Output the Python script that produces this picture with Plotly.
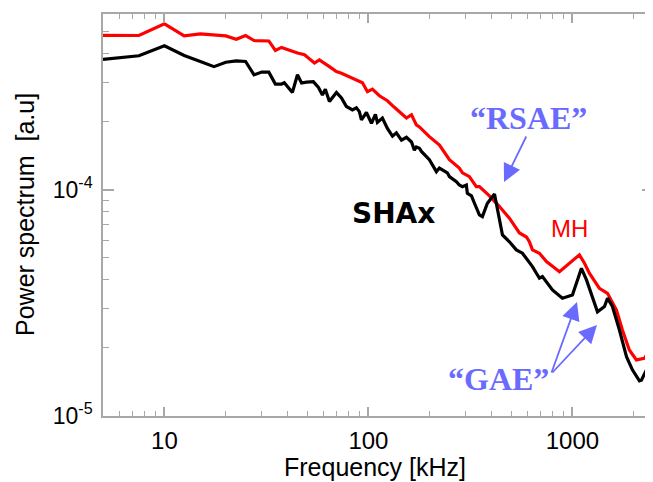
import plotly.graph_objects as go

# SHAx (black) spectrum, frequency in kHz, power in a.u.
shax_freq = [5, 7.5, 10, 12.5, 15, 17.5, 20, 22.5, 25, 27.5, 30, 32.5, 35, 37.5, 38.7, 42.4, 44.9, 47,
             49.7, 53.7, 56.9, 59.5, 61.5, 64.4, 69.7, 73.8, 76.3, 78, 83.5, 87.3, 90.3, 92.4, 97.8,
             103.5, 108.2, 110.7, 117.1, 123.9, 131.2, 137.1, 145.2, 153.6, 162.6, 168, 171.8, 177.8,
             181.9, 199, 215.4, 222.8, 243.8, 249.5, 270, 279, 289, 302, 305.5, 320, 331, 350, 362,
             383, 415, 434, 454, 491, 531, 569, 615, 637, 666, 689, 713, 798, 893, 1000, 1059, 1107,
             1172, 1240, 1327, 1436, 1486, 1571, 1700, 1841, 1968, 2130, 2178, 2306, 2480]
shax_power = [3.78e-4, 3.92e-4, 4.34e-4, 3.93e-4, 3.70e-4, 3.51e-4, 3.67e-4, 3.72e-4, 3.70e-4,
              3.23e-4, 3.32e-4, 3.32e-4, 2.94e-4, 2.94e-4, 2.98e-4, 2.70e-4, 3.23e-4, 2.97e-4,
              3.00e-4, 3.01e-4, 2.84e-4, 2.63e-4, 2.79e-4, 2.46e-4, 2.70e-4, 2.55e-4, 2.42e-4,
              2.34e-4, 2.26e-4, 2.31e-4, 2.22e-4, 2.04e-4, 2.20e-4, 1.97e-4, 2.16e-4, 1.99e-4,
              2.08e-4, 1.87e-4, 1.73e-4, 1.79e-4, 1.66e-4, 1.71e-4, 1.63e-4, 1.50e-4, 1.55e-4,
              1.53e-4, 1.48e-4, 1.36e-4, 1.205e-4, 1.25e-4, 1.19e-4, 1.145e-4, 1.088e-4, 1.052e-4,
              1.034e-4, 1.052e-4, 0.967e-4, 0.941e-4, 0.873e-4, 0.775e-4, 0.762e-4, 0.873e-4,
              0.960e-4, 0.789e-4, 0.632e-4, 0.590e-4, 0.543e-4, 0.525e-4, 0.482e-4, 0.458e-4,
              0.428e-4, 0.407e-4, 0.414e-4, 0.361e-4, 0.332e-4, 0.343e-4, 0.400e-4, 0.450e-4,
              0.400e-4, 0.343e-4, 0.289e-4, 0.305e-4, 0.332e-4, 0.305e-4, 0.240e-4, 0.183e-4,
              0.160e-4, 0.143e-4, 0.144e-4, 0.160e-4, 0.192e-4]

# MH (red) spectrum
mh_freq = [5, 7.5, 10, 12.5, 15, 17.5, 20, 22.5, 25, 27.5, 30, 32.5, 35, 37.5, 44.9, 48.6, 54.4,
           57.5, 64.4, 69.7, 73.8, 80.7, 85.4, 93.5, 98.9, 104.6, 113.2, 123.9, 134, 145.2, 153.6,
           162.6, 171.8, 177.8, 199, 223, 249.5, 279, 289, 312.6, 338, 350, 392, 439, 491, 550,
           595, 615, 637, 689, 746, 864, 967, 1082, 1146, 1211, 1356, 1486, 1644, 1758, 1901,
           2059, 2254, 2480]
mh_power = [4.83e-4, 4.82e-4, 5.43e-4, 4.80e-4, 4.90e-4, 4.85e-4, 4.80e-4, 4.64e-4, 4.82e-4,
            4.58e-4, 4.56e-4, 4.56e-4, 4.14e-4, 4.27e-4, 4.03e-4, 3.96e-4, 3.64e-4, 3.76e-4,
            3.51e-4, 3.34e-4, 3.28e-4, 3.16e-4, 3.09e-4, 2.98e-4, 2.72e-4, 2.79e-4, 2.61e-4,
            2.48e-4, 2.32e-4, 2.17e-4, 2.08e-4, 2.15e-4, 1.94e-4, 1.90e-4, 1.72e-4, 1.58e-4,
            1.36e-4, 1.25e-4, 1.19e-4, 1.145e-4, 1.034e-4, 1.034e-4, 0.941e-4, 0.844e-4,
            0.750e-4, 0.645e-4, 0.619e-4, 0.590e-4, 0.543e-4, 0.525e-4, 0.482e-4, 0.435e-4,
            0.474e-4, 0.516e-4, 0.474e-4, 0.428e-4, 0.367e-4, 0.349e-4, 0.294e-4, 0.240e-4,
            0.196e-4, 0.177e-4, 0.180e-4, 0.205e-4]

x_tick_vals = [10, 100, 1000]
x_tick_text = ["10", "100", "1000"]
y_tick_vals = [1e-5, 1e-4]
y_tick_text = ["10<sup>-5</sup>", "10<sup>-4</sup>"]

x_minor = [m * 10 ** d for d in range(0, 4) for m in range(2, 10) if 5 <= m * 10 ** d <= 2500]
y_minor = [m * 10.0 ** d for d in (-5, -4) for m in range(2, 10) if m * 10.0 ** d <= 6e-4]

blue = "#6a6aff"
axis_col = "#a8a8a8"

# page body has an 8px margin: figure is 645x474 placed at (8, 8) in the 653x482 window
PL, PR, PT, PB = 103, 653, 14, 416   # plot area in window pixels


def px(xp):
    return (xp - PL) / (PR - PL)


def py(yp):
    return (PB - yp) / (PB - PT)


fig = go.Figure()
fig.add_trace(go.Scatter(x=mh_freq, y=mh_power, mode="lines",
                         line=dict(color="#ff0000", width=3.2), showlegend=False))
fig.add_trace(go.Scatter(x=shax_freq, y=shax_power, mode="lines",
                         line=dict(color="#000000", width=3.2), showlegend=False))

fig.update_layout(
    width=645, height=474,
    margin=dict(l=PL - 8, r=0, t=PT - 8, b=474 - (PB - 8), autoexpand=False),
    plot_bgcolor="white", paper_bgcolor="white",
    font=dict(family="Liberation Sans, Arial, sans-serif", color="black"),
    xaxis=dict(type="log", range=[0.699, 3.395], tickvals=x_tick_vals, ticktext=x_tick_text,
               ticks="inside", ticklen=9, tickwidth=1.5, tickcolor=axis_col, automargin=False,
               showline=True, linecolor=axis_col, linewidth=1.5, mirror="allticks",
               showgrid=False, zeroline=False, tickfont=dict(size=24), ticklabelstandoff=2,
               minor=dict(tickvals=x_minor, ticks="inside", ticklen=5, tickwidth=1.2,
                          tickcolor=axis_col, showgrid=False)),
    yaxis=dict(type="log", range=[-5, -3.2218], tickvals=y_tick_vals, ticktext=y_tick_text,
               ticks="inside", ticklen=11, tickwidth=1.5, tickcolor=axis_col, automargin=False,
               showline=True, linecolor=axis_col, linewidth=1.5, mirror="allticks",
               showgrid=False, zeroline=False, tickfont=dict(size=23), ticklabelstandoff=4,
               minor=dict(tickvals=y_minor, ticks="inside", ticklen=6, tickwidth=1.2,
                          tickcolor=axis_col, showgrid=False)),
)

serif = "Liberation Serif, Times New Roman, serif"
annotations = [
    dict(text="Frequency [kHz]", x=px(375), y=py(467), xref="paper", yref="paper",
         showarrow=False, font=dict(size=25), xanchor="center", yanchor="middle"),
    dict(text="Power spectrum\u00a0\u00a0[a.u]", x=px(25), y=py(215), xref="paper", yref="paper",
         showarrow=False, font=dict(size=25), textangle=-90, xanchor="center", yanchor="middle"),
    dict(text="<b>SHAx</b>", x=px(393), y=py(213), xref="paper", yref="paper",
         showarrow=False, font=dict(size=28, color="black", family="DejaVu Sans, Verdana, sans-serif"),
         xanchor="center", yanchor="middle"),
    dict(text="MH", x=px(569), y=py(229), xref="paper", yref="paper",
         showarrow=False, font=dict(size=24, color="#ff0000"), xanchor="center", yanchor="middle"),
    dict(text="<b>\u201cRSAE\u201d</b>", x=px(528), y=py(118), xref="paper", yref="paper",
         showarrow=False, font=dict(size=32, color=blue, family=serif),
         xanchor="center", yanchor="middle"),
    dict(text="<b>\u201cGAE\u201d</b>", x=px(498), y=py(379), xref="paper", yref="paper",
         showarrow=False, font=dict(size=32, color=blue, family=serif),
         xanchor="center", yanchor="middle"),
    dict(text="", x=px(504), y=py(182), xref="paper", yref="paper",
         showarrow=True, ax=23, ay=-47, arrowcolor=blue, arrowwidth=1.8, arrowhead=2, arrowsize=2,
         standoff=0),
    dict(text="", x=px(577), y=py(302), xref="paper", yref="paper",
         showarrow=True, ax=-26, ay=72, arrowcolor=blue, arrowwidth=1.8, arrowhead=2, arrowsize=2,
         standoff=0),
    dict(text="", x=px(597), y=py(325), xref="paper", yref="paper",
         showarrow=True, ax=-46, ay=49, arrowcolor=blue, arrowwidth=1.8, arrowhead=2, arrowsize=2,
         standoff=0),
]
fig.update_layout(annotations=annotations)

fig.write_html("out.html")
